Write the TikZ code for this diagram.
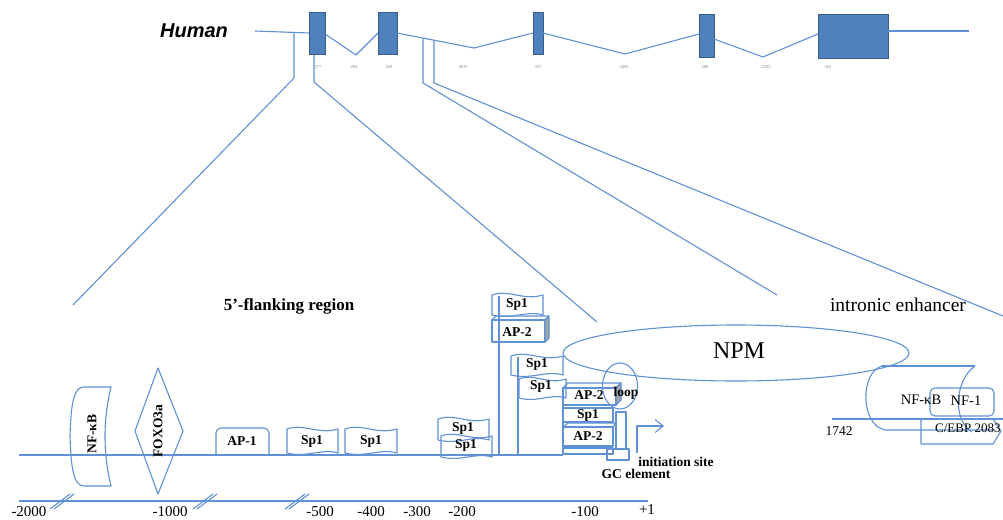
\documentclass[tikz,border=0pt]{standalone}
\usepackage{fontspec}
\setmainfont{Liberation Serif}
\newfontfamily\hsans{Liberation Sans}
\usetikzlibrary{arrows.meta,calc}
\definecolor{lc}{RGB}{95,145,212}
\definecolor{bx}{RGB}{79,129,189}
\definecolor{bxd}{RGB}{56,93,138}
\definecolor{shd}{RGB}{165,165,165}
\tikzset{
  ln/.style={draw=lc, line width=1.1pt, line join=round},
  gbox/.style={draw=bxd, fill=bx, line width=1pt},
  tiny/.style={font=\fontsize{4.5}{5}\selectfont, text=gray, inner sep=0},
  bl/.style={font=\bfseries\fontsize{13.5}{15}\selectfont, inner sep=0},
  rl/.style={font=\fontsize{14.5}{16}\selectfont, inner sep=0},
  ax/.style={font=\fontsize{15}{16}\selectfont, inner sep=0},
}
\newcommand\wavybox[4]{%
  \draw[ln] (#1,#2) .. controls ({#1+(#3-#1)*0.33},{#2-6}) and ({#1+(#3-#1)*0.6},{#2+6}) .. (#3,#2) -- (#3,#4)
   .. controls ({#3-(#3-#1)*0.33},{#4-5}) and ({#3-(#3-#1)*0.6},{#4+5}) .. (#1,#4) -- cycle;}
\newcommand\tdbox[5]{%
  \draw[ln] (#1,#2) rectangle (#3,#4);
  \draw[ln] (#1,#2) -- ({#1+#5},{#2-#5}) -- ({#3+#5},{#2-#5}) -- (#3,#2);
  \draw[ln, fill=shd] (#3,#2) -- ({#3+#5},{#2-#5}) -- ({#3+#5},{#4-#5}) -- (#3,#4) -- cycle;}
\begin{document}
\begin{tikzpicture}[x=1pt,y=-1pt]
\useasboundingbox (0,0) rectangle (1003,519);

% ---------- gene structure ----------
\node[font=\hsans\bfseries\itshape\fontsize{20}{22}\selectfont, inner sep=0] (human) at (194,31) {Human};
\draw[ln] (255,31) -- (309,33);
\draw[gbox] (309,13) rectangle (325,55);
\draw[ln] (325,34) -- (356,55) -- (378,33);
\draw[gbox] (378,13) rectangle (397,55);
\draw[ln] (397,33) -- (474,48) -- (533,33);
\draw[gbox] (533,13) rectangle (543,55);
\draw[ln] (543,33) -- (625,54) -- (699,34);
\draw[gbox] (699,15) rectangle (714,58);
\draw[ln] (714,39) -- (763,57) -- (818,34);
\draw[gbox] (818,15) rectangle (888,59);
\draw[ln] (888,31) -- (969,31);
\foreach \x/\t in {318/377,354/283,389/269,463/4815,538/337,624/3492,705/380,766/2235,828/363}
  \node[tiny] (n\x) at (\x,67) {\t};

% zoom lines
\draw[ln] (294,33) -- (294,78) -- (73,305);
\draw[ln] (314,55) -- (314,82) -- (597,322);
\draw[ln] (423,38) -- (423,83) -- (777,295);
\draw[ln] (434,40) -- (434,83) -- (1003,316);

% ---------- titles ----------
\node[font=\bfseries\fontsize{17}{19}\selectfont, inner sep=0] (flank) at (289,306) {5’-flanking region};
\node[font=\fontsize{19.5}{21}\selectfont, inner sep=0] (intr) at (898,305) {intronic enhancer};

% ---------- baselines ----------
\draw[ln] (19,455) -- (563,455);
\draw[ln] (19,501) -- (648,501);
\foreach \s in {62,205,297}{
  \draw[ln] ({\s-12},509) -- ({\s+8},494);
  \draw[ln] ({\s-8},509) -- ({\s+12},494);
}
\foreach \x/\t in {29/-2000,170/-1000,320/-500,371/-400,417/-300,462/-200,585/-100}
  \node[ax] (a\x) at (\x,512) {\t};
\node[ax] (aplus) at (647,510) {+1};

% ---------- NF-kB (left) ----------
\draw[ln] (84,387) -- (111,387) .. controls (103,420) and (103,453) .. (111,486) -- (84,486)
  .. controls (74,486) and (71,470) .. (70,436) .. controls (71,402) and (74,387) .. (84,387) -- cycle;
\node[bl, rotate=90] (nfkbl) at (92,434) {NF-κB};

% FOXO3a
\draw[ln] (158,368) -- (183,431) -- (158,494) -- (135,431) -- cycle;
\node[bl, rotate=90] (foxo) at (158,431) {FOXO3a};

% AP-1
\draw[ln, rounded corners=5pt] (216,455) -- (216,428) -- (269,428) -- (269,455);
\node[bl] (ap1) at (242,441) {AP-1};

% Sp1 singles
\wavybox{287}{429}{338}{453}
\node[bl] (sp1a) at (312,441) {Sp1};
\wavybox{345}{429}{397}{453}
\node[bl] (sp1b) at (371,441) {Sp1};

% Sp1 pair
\wavybox{438}{419}{489}{440}
\node[bl] (sp1c) at (463,428) {Sp1};
\wavybox{441}{436}{492}{457}
\node[bl] (sp1d) at (466,445) {Sp1};

% column 1
\draw[ln] (499,455) -- (499,296);
\wavybox{492}{295}{543}{315}
\node[bl] (sp1e) at (517,304) {Sp1};
\tdbox{492}{320}{545}{342}{4}
\node[bl] (ap2a) at (517,332) {AP-2};

% column 2
\draw[ln] (518,455) -- (518,357);
\wavybox{511}{356}{563}{375}
\node[bl] (sp1f) at (537,364) {Sp1};
\wavybox{519}{379}{566}{398}
\node[bl] (sp1g) at (541,386) {Sp1};

% NPM ellipse
\draw[ln] (736,353) ellipse [x radius=173, y radius=28];
\node[font=\fontsize{24}{26}\selectfont, inner sep=0] (npm) at (739,351) {NPM};

% stack
\tdbox{563}{388}{616}{405}{5}
\node[bl] (ap2b) at (589,395) {AP-2};
\draw[ln] (620,386) ellipse [x radius=17.5, y radius=23];
\node[bl] (loop) at (626,393) {loop};
\draw[ln] (563,408) rectangle (613,422);
\node[bl] (sp1h) at (588,415) {Sp1};
\draw[ln] (563,427) rectangle (613,446);
\draw[ln] (563,427) -- (568,423) -- (616,423) -- (613,427);
\node[bl] (ap2c) at (588,436) {AP-2};
\draw[ln] (563,448) rectangle (613,454);
\draw[ln] (563,405) -- (563,455);

% GC element / initiation
\draw[ln] (616,412) rectangle (626,449);
\draw[ln] (607,449) rectangle (629,460);
\node[bl] (gc) at (636,474) {GC element};
\node[bl] (init) at (676,462) {initiation site};
\coordinate (arS) at (637,453);
\coordinate (arE) at (664,426);
\draw[ln, -{Straight Barb[length=8pt,width=13pt]}] (arS) |- (arE);

% ---------- intronic enhancer ----------
\draw[ln] (832,419) -- (1003,419);
\draw[ln] (882,366) -- (975,366);
\draw[ln] (882,366) .. controls (860,372) and (860,425) .. (885,430) -- (995,430);
\draw[ln] (975,366) .. controls (955,380) and (952,420) .. (972,432);
\draw[ln, rounded corners=5pt] (930,388) rectangle (994,416);
\draw[ln] (921,419) -- (921,444) -- (993,444) -- (1001,431) -- (993,419);
\node[rl] (nfkbr) at (921,400) {NF-κB};
\node[rl] (nf1) at (966,401) {NF-1};
\node[font=\fontsize{13.5}{15}\selectfont, inner sep=0] (n1742) at (839,431) {1742};
\node[font=\fontsize{13}{15}\selectfont, inner sep=0, anchor=west] (cebp) at (935,428) {C/EBP 2083};
\end{tikzpicture}
\end{document}
